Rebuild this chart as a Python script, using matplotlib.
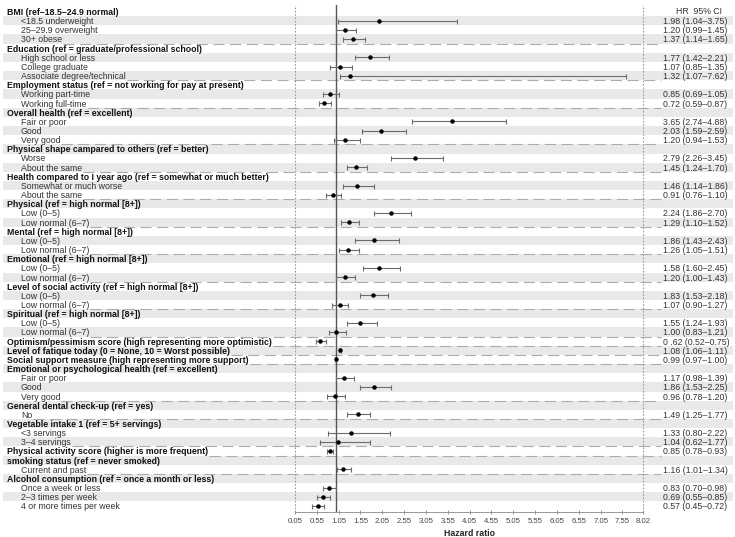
import matplotlib
matplotlib.use("Agg")
import matplotlib.pyplot as plt
import numpy as np

plt.rcParams['font.family'] = ['Liberation Sans', 'DejaVu Sans']

# ---------------- data ----------------
row_labels = [
    "BMI (ref\u201318.5\u201324.9 normal)", "<18.5 underweight", "25\u201329.9 overweight", "30+ obese",
    "Education (ref = graduate/professional school)", "High school or less", "College graduate",
    "Associate degree/technical",
    "Employment status (ref = not working for pay at present)", "Working part-time", "Working full-time",
    "Overall health (ref = excellent)", "Fair or poor", "Good", "Very good",
    "Physical shape campared to others (ref = better)", "Worse", "About the same",
    "Health compared to I year ago (ref = somewhat or much better)", "Somewhat or much worse", "About the same",
    "Physical (ref = high normal [8+])", "Low (0\u20135)", "Low normal (6\u20137)",
    "Mental (ref = high normal [8+])", "Low (0\u20135)", "Low normal (6\u20137)",
    "Emotional (ref = high normal [8+])", "Low (0\u20135)", "Low normal (6\u20137)",
    "Level of social activity (ref = high normal [8+])", "Low (0\u20135)", "Low normal (6\u20137)",
    "Spiritual (ref = high normal [8+])", "Low (0\u20135)", "Low normal (6\u20137)",
    "Optimism/pessimism score (high representing more optimistic)",
    "Level of fatique today (0 = None, 10 = Worst possible)",
    "Social support measure (high representing more support)",
    "Emotional or psychological health (ref = excellent)", "Fair or poor", "Good", "Very good",
    "General dental check-up (ref = yes)", "No",
    "Vegetable intake 1 (ref = 5+ servings)", "<3 servings", "3\u20134 servings",
    "Physical activity score (higher is more frequent)",
    "smoking status (ref = never smoked)", "Current and past",
    "Alcohol consumption (ref = once a month or less)", "Once a week or less", "2\u20133 times per week",
    "4 or more times per week",
]
row_is_header = [
    1, 0, 0, 0,
    1, 0, 0, 0,
    1, 0, 0,
    1, 0, 0, 0,
    1, 0, 0,
    1, 0, 0,
    1, 0, 0,
    1, 0, 0,
    1, 0, 0,
    1, 0, 0,
    1, 0, 0,
    1, 1, 1,
    1, 0, 0, 0,
    1, 0,
    1, 0, 0,
    1,
    1, 0,
    1, 0, 0, 0,
]
nan = np.nan
hr = [
    nan, 1.98, 1.20, 1.37,
    nan, 1.77, 1.07, 1.32,
    nan, 0.85, 0.72,
    nan, 3.65, 2.03, 1.20,
    nan, 2.79, 1.45,
    nan, 1.46, 0.91,
    nan, 2.24, 1.29,
    nan, 1.86, 1.26,
    nan, 1.98, 1.20,
    nan, 1.83, 1.07,
    nan, 1.55, 1.00,
    0.62, 1.08, 0.99,
    nan, 1.17, 1.86, 0.96,
    nan, 1.49,
    nan, 1.33, 1.04,
    0.85,
    nan, 1.16,
    nan, 0.83, 0.69, 0.57,
]
ci_low = [
    nan, 1.04, 0.99, 1.14,
    nan, 1.42, 0.85, 1.07,
    nan, 0.69, 0.59,
    nan, 2.74, 1.59, 0.94,
    nan, 2.26, 1.24,
    nan, 1.14, 0.76,
    nan, 1.86, 1.10,
    nan, 1.43, 1.05,
    nan, 1.60, 1.00,
    nan, 1.53, 0.90,
    nan, 1.24, 0.83,
    0.52, 1.06, 0.97,
    nan, 0.98, 1.53, 0.78,
    nan, 1.25,
    nan, 0.80, 0.62,
    0.78,
    nan, 1.01,
    nan, 0.70, 0.55, 0.45,
]
ci_high = [
    nan, 3.75, 1.45, 1.65,
    nan, 2.21, 1.35, 7.62,
    nan, 1.05, 0.87,
    nan, 4.88, 2.59, 1.53,
    nan, 3.45, 1.70,
    nan, 1.86, 1.10,
    nan, 2.70, 1.52,
    nan, 2.43, 1.51,
    nan, 2.45, 1.43,
    nan, 2.18, 1.27,
    nan, 1.93, 1.21,
    0.75, 1.11, 1.00,
    nan, 1.39, 2.25, 1.20,
    nan, 1.77,
    nan, 2.22, 1.77,
    0.93,
    nan, 1.34,
    nan, 0.98, 0.85, 0.72,
]
hr_text = [
    "", "1.98 (1.04\u20133.75)", "1.20 (0.99\u20131.45)", "1.37 (1.14\u20131.65)",
    "", "1.77 (1.42\u20132.21)", "1.07 (0.85\u20131.35)", "1.32 (1.07\u20137.62)",
    "", "0.85 (0.69\u20131.05)", "0.72 (0.59\u20130.87)",
    "", "3.65 (2.74\u20134.88)", "2.03 (1.59\u20132.59)", "1.20 (0.94\u20131.53)",
    "", "2.79 (2.26\u20133.45)", "1.45 (1.24\u20131.70)",
    "", "1.46 (1.14\u20131.86)", "0.91 (0.76\u20131.10)",
    "", "2.24 (1.86\u20132.70)", "1.29 (1.10\u20131.52)",
    "", "1.86 (1.43\u20132.43)", "1.26 (1.05\u20131.51)",
    "", "1.58 (1.60\u20132.45)", "1.20 (1.00\u20131.43)",
    "", "1.83 (1.53\u20132.18)", "1.07 (0.90\u20131.27)",
    "", "1.55 (1.24\u20131.93)", "1.00 (0.83\u20131.21)",
    "0 .62 (0.52\u20130.75)", "1.08 (1.06\u20131.11)", "0.99 (0.97\u20131.00)",
    "", "1.17 (0.98\u20131.39)", "1.86 (1.53\u20132.25)", "0.96 (0.78\u20131.20)",
    "", "1.49 (1.25\u20131.77)",
    "", "1.33 (0.80\u20132.22)", "1.04 (0.62\u20131.77)",
    "0.85 (0.78\u20130.93)",
    "", "1.16 (1.01\u20131.34)",
    "", "0.83 (0.70\u20130.98)", "0.69 (0.55\u20130.85)", "0.57 (0.45\u20130.72)",
]
group_end_rows = [3, 7, 10, 14, 17, 20, 23, 26, 29, 32, 35, 36, 37, 38, 42, 44, 47, 48, 50]
x_ticks = [0.05, 0.55, 1.05, 1.55, 2.05, 2.55, 3.05, 3.55, 4.05, 4.55, 5.05, 5.55, 6.05, 6.55, 7.05, 7.55, 8.02]
x_tick_labels = ["0.05", "0.55", "1.05", "1.55", "2.05", "2.55", "3.05", "3.55", "4.05", "4.55",
                 "5.05", "5.55", "6.05", "6.55", "7.05", "7.55", "8.02"]
x_min, x_max = 0.05, 8.02
ref_value = 1.0

# ---------------- layout ----------------
W, H = 735, 537
fig = plt.figure(figsize=(W / 100, H / 100), dpi=100)
row0_px, row_step = 11.6, 9.155
top_px, bot_px = 5, 512
x0_px, x1_px = 295, 643
r_top = (top_px - row0_px) / row_step
r_bot = (bot_px - row0_px) / row_step

n = len(row_labels)
rows = np.arange(n)
stripe_col = "#e9e9e9"
fs = 6.3

ax_bg = fig.add_axes([0, 1 - bot_px / H, 1, (bot_px - top_px) / H])
ax_bg.set_xlim(0, W)
ax_bg.set_ylim(r_bot, r_top)
ax_bg.axis("off")

ax = fig.add_axes([x0_px / W, 1 - bot_px / H, (x1_px - x0_px) / W, (bot_px - top_px) / H])
ax.set_xlim(x_min, x_max)
ax.set_ylim(r_bot, r_top)
ax.patch.set_alpha(0)

# stripes
odd = rows[rows % 2 == 1]
ax_bg.barh(odd, width=W - 5, left=3, height=1.0, color=stripe_col, linewidth=0, zorder=0)

# labels
label_texts = []
for r in rows:
    hdr = bool(row_is_header[r])
    t = ax_bg.text(7 if hdr else 21, r + 0.1, row_labels[r], ha="left", va="center",
                   fontsize=fs, fontweight="bold" if hdr else "normal",
                   color="#111111" if hdr else "#333333", zorder=3)
    label_texts.append(t)
    if hr_text[r]:
        ax_bg.text(663, r + 0.1, hr_text[r], ha="left", va="center", fontsize=fs,
                   color="#333333", zorder=3)
ax_bg.text(676, 0.0, "HR  95% CI", ha="left", va="center", fontsize=fs, color="#333333")

# dashed separators (from label end to value column)
fig.canvas.draw()
renderer = fig.canvas.get_renderer()
inv = ax_bg.transData.inverted()
for r in group_end_rows:
    bb = label_texts[r].get_window_extent(renderer)
    xs = inv.transform((bb.x1, 0))[0] + 1
    ax_bg.hlines(r + 0.5, xs, 661, colors="#acacac", linewidth=0.8,
                 linestyles=(0, (10, 5)), zorder=1)

# reference lines
ax.axvline(ref_value, color="#555555", lw=1.0, zorder=2)
for xv in (x_min, x_max):
    ax.axvline(xv, color="#9a9a9a", lw=0.8, linestyle=(0, (1.5, 1.5)), clip_on=False, zorder=2)

# estimates
hr_a = np.array(hr, dtype=float)
lo_a = np.array(ci_low, dtype=float)
hi_a = np.array(ci_high, dtype=float)
m = ~np.isnan(hr_a)
ax.errorbar(hr_a[m], rows[m], xerr=[hr_a[m] - lo_a[m], hi_a[m] - hr_a[m]], fmt="o",
            ms=2.2, mfc="black", mec="black", ecolor="#6b6b6b", elinewidth=0.8,
            capsize=1.8, capthick=0.8, zorder=4)

# axes styling
for s in ("top", "left", "right"):
    ax.spines[s].set_visible(False)
ax.spines["bottom"].set_color("#888888")
ax.spines["bottom"].set_linewidth(0.6)
ax.set_yticks([])
ax.set_xticks(x_ticks)
ax.set_xticklabels(x_tick_labels)
ax.tick_params(axis="x", direction="inout", length=3, width=0.6, color="#888888",
               labelsize=5.6, labelcolor="#444444", pad=3)
ax.set_xlabel("Hazard ratio", fontsize=fs, fontweight="bold", color="#222222", labelpad=2.5)

fig.savefig("out.png", dpi=100)
